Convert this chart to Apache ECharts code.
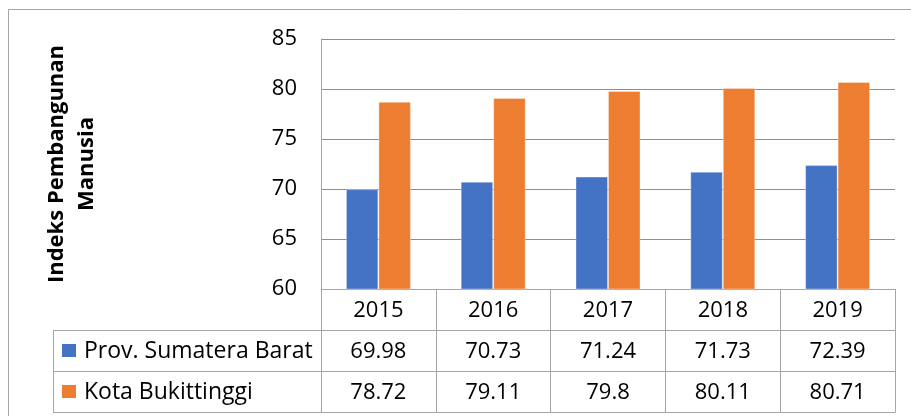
<!DOCTYPE html>
<html>
<head>
<meta charset="utf-8">
<script src="https://cdn.jsdelivr.net/npm/echarts@6/dist/echarts.min.js"></script>
<style>html,body{margin:0;padding:0;background:#fff;}#c{width:911px;height:416px;}</style>
</head>
<body>
<div id="c"></div>
<script>
const years = ['2015', '2016', '2017', '2018', '2019'];
const seriesNames = ['Prov. Sumatera Barat', 'Kota Bukittinggi'];
const sumbar = [69.98, 70.73, 71.24, 71.73, 72.39];
const bukittinggi = [78.72, 79.11, 79.8, 80.11, 80.71];
const sumbarLabels = ['69.98', '70.73', '71.24', '71.73', '72.39'];
const bukittinggiLabels = ['78.72', '79.11', '79.8', '80.11', '80.71'];
const yMin = 60, yMax = 85, yStep = 5;
const yTitle = 'Indeks Pembangunan\nManusia';

const colors = ['#4472C4', '#ED7D31'];
const FONT = 'Open Sans';
const gridColor = '#8f8f8f';
const tableColor = '#a6a6a6';

const chart = echarts.init(document.getElementById('c'), null, {renderer: 'canvas'});

const GRID = {left: 321, right: 16, top: 39, bottom: 127};
const rowH = 41;

chart.setOption({
  animation: false,
  textStyle: {fontFamily: FONT},
  grid: {left: GRID.left, right: GRID.right, top: GRID.top, bottom: GRID.bottom, containLabel: false},
  xAxis: {
    type: 'category',
    data: years,
    axisLine: {show: true, lineStyle: {color: tableColor, width: 1}},
    axisTick: {show: true, length: rowH * 3 + 0.5, inside: false, alignWithLabel: false, interval: 0,
      lineStyle: {color: tableColor, width: 1}},
    axisLabel: {show: false},
    splitLine: {show: false}
  },
  yAxis: {
    type: 'value',
    min: yMin, max: yMax, interval: yStep,
    name: yTitle,
    nameLocation: 'middle',
    nameRotate: 90,
    nameGap: 219,
    nameTextStyle: {fontFamily: FONT, fontSize: 22, fontWeight: 'bold', color: '#000', lineHeight: 30, align: 'center'},
    axisLine: {show: true, lineStyle: {color: tableColor, width: 1}},
    axisTick: {show: false},
    axisLabel: {fontFamily: FONT, fontSize: 22, color: '#000', margin: 24},
    splitLine: {show: true, lineStyle: {color: gridColor, width: 1}}
  },
  series: [
    {name: seriesNames[0], type: 'bar', data: sumbar, barWidth: 32.5, barGap: '0%',
     itemStyle: {color: colors[0], borderColor: 'rgba(255,255,255,0.35)', borderWidth: 1}},
    {name: seriesNames[1], type: 'bar', data: bukittinggi, barWidth: 32.5, barGap: '0%',
     itemStyle: {color: colors[1], borderColor: 'rgba(255,255,255,0.35)', borderWidth: 1}}
  ]
});

// Data table drawn below the axis, positioned from the axis scale
const axisY = chart.convertToPixel({yAxisIndex: 0}, yMin);
const xRight = chart.convertToPixel({xAxisIndex: 0}, years[years.length - 1]) +
  (chart.convertToPixel({xAxisIndex: 0}, years[1]) - chart.convertToPixel({xAxisIndex: 0}, years[0])) / 2;
const tableLeft = 53;
const r1 = axisY, r2 = axisY + rowH, r3 = axisY + rowH * 2, r4 = axisY + rowH * 3;
const g = [];
const line = (x1, y1, x2, y2) => g.push({type: 'line', silent: true,
  shape: {x1, y1, x2, y2}, style: {stroke: tableColor, lineWidth: 1}});
line(tableLeft, Math.round(r2) + 0.5, xRight, Math.round(r2) + 0.5);
line(tableLeft, Math.round(r3) + 0.5, xRight, Math.round(r3) + 0.5);
line(tableLeft, Math.round(r4) + 0.5, xRight, Math.round(r4) + 0.5);
line(tableLeft + 0.5, Math.round(r2), tableLeft + 0.5, Math.round(r4) + 1);

const txt = (x, y, text, align) => g.push({type: 'text', silent: true, x, y,
  style: {text, fill: '#000', font: '22px "' + FONT + '"', align: align || 'center', verticalAlign: 'middle'}});
years.forEach((yr, i) => {
  const cx = chart.convertToPixel({xAxisIndex: 0}, yr);
  txt(cx, (r1 + r2) / 2 + 1, yr);
  txt(cx, (r2 + r3) / 2 + 1, sumbarLabels[i]);
  txt(cx, (r3 + r4) / 2 + 1, bukittinggiLabels[i]);
});
[[r2, r3], [r3, r4]].forEach((r, k) => {
  const cy = (r[0] + r[1]) / 2;
  g.push({type: 'rect', silent: true, shape: {x: 62, y: cy - 6.5, width: 14, height: 13}, style: {fill: colors[k]}});
  g.push({type: 'text', silent: true, x: 84, y: cy + 1,
    style: {text: seriesNames[k], fill: '#000', font: '23px "' + FONT + '"', align: 'left', verticalAlign: 'middle'}});
});
// outer chart frame
g.push({type: 'rect', silent: true, shape: {x: 8.5, y: 9.5, width: 930, height: 430},
  style: {fill: 'none', stroke: tableColor, lineWidth: 1}});
chart.setOption({graphic: g});
</script>
</body>
</html>
